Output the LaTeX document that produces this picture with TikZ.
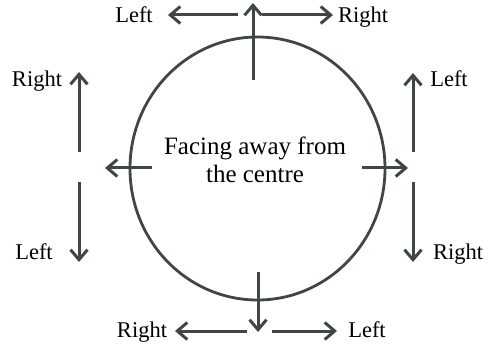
\documentclass[tikz,border=0pt]{standalone}
\usepackage{fontspec}
\setmainfont{Liberation Serif}
\usetikzlibrary{arrows.meta,shapes.geometric}
\definecolor{ink}{rgb}{0.25,0.27,0.27}
\begin{document}
\begin{tikzpicture}[x=1pt,y=-1pt,
  line/.style={draw=ink,line width=3pt},
  arr/.style={line,-{Straight Barb[length=10pt,width=17pt,line width=3pt]}},
  lab/.style={font=\fontsize{22.5}{24}\selectfont,text=black,inner sep=0pt,anchor=base},
  ctr/.style={font=\fontsize{25}{28}\selectfont,text=black,inner sep=0pt,anchor=base}]
\useasboundingbox (0,0) rectangle (495,347);
% circle
\node[draw=ink,line width=2.8pt,ellipse,minimum width=255pt,minimum height=263pt,inner sep=0pt] (c) at (257.5,168.5) {};
% centre text
\node[ctr] (t1) at (255,155) {Facing away from};
\node[ctr] (t2) at (255,183) {the centre};
% coordinates
\coordinate (tv0) at (253,80);  \coordinate (tv1) at (253,3);
\coordinate (tl0) at (238,15);  \coordinate (tl1) at (168,15);
\coordinate (tr0) at (262,15);  \coordinate (tr1) at (333,15);
\coordinate (lu0) at (79,152);  \coordinate (lu1) at (79,72);
\coordinate (ld0) at (79,182);  \coordinate (ld1) at (79,262);
\coordinate (lh0) at (152,168); \coordinate (lh1) at (105,168);
\coordinate (ru0) at (413,152); \coordinate (ru1) at (413,73);
\coordinate (rd0) at (413,182); \coordinate (rd1) at (413,262);
\coordinate (rh0) at (362,168); \coordinate (rh1) at (408,168);
\coordinate (bv0) at (258,272); \coordinate (bv1) at (258,332);
\coordinate (bl0) at (247,331); \coordinate (bl1) at (175,331);
\coordinate (br0) at (272,331); \coordinate (br1) at (337,331);
% arrows
\draw[arr] (tv0) -- (tv1);
\draw[arr] (tl0) -- (tl1);
\draw[arr] (tr0) -- (tr1);
\draw[arr] (lu0) -- (lu1);
\draw[arr] (ld0) -- (ld1);
\draw[arr] (lh0) -- (lh1);
\draw[arr] (ru0) -- (ru1);
\draw[arr] (rd0) -- (rd1);
\draw[arr] (rh0) -- (rh1);
\draw[arr] (bv0) -- (bv1);
\draw[arr] (bl0) -- (bl1);
\draw[arr] (br0) -- (br1);
% labels
\node[lab] (L1) at (134,23) {Left};
\node[lab] (R1) at (363,23) {Right};
\node[lab] (R2) at (37,87) {Right};
\node[lab] (L2) at (34,260) {Left};
\node[lab] (L3) at (449,87) {Left};
\node[lab] (R3) at (458,260) {Right};
\node[lab] (R4) at (142,337) {Right};
\node[lab] (L4) at (367,337) {Left};
\end{tikzpicture}
\end{document}
